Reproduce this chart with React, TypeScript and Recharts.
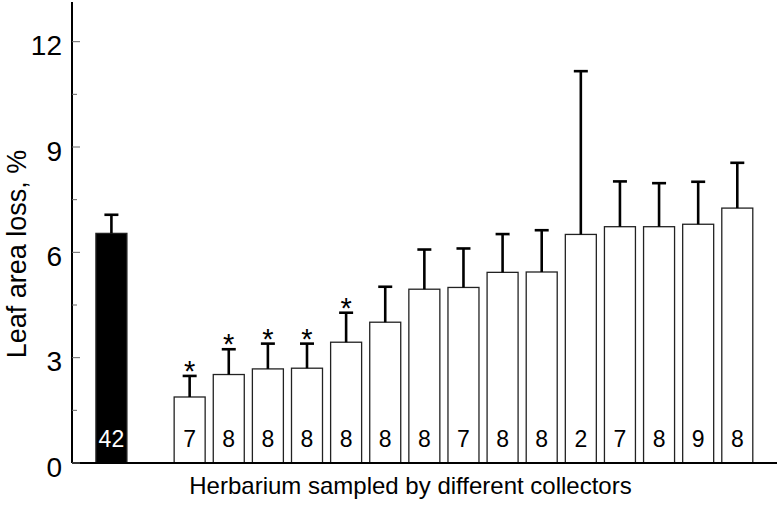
import { BarChart, Bar, XAxis, YAxis } from 'recharts'

// one pooled bar, an empty slot, then 15 collectors
const groups = ['Pooled', '', 'C1', 'C2', 'C3', 'C4', 'C5', 'C6', 'C7', 'C8', 'C9', 'C10', 'C11', 'C12', 'C13', 'C14', 'C15']
const means = [6.54, null, 1.88, 2.52, 2.68, 2.70, 3.44, 4.01, 4.95, 5.00, 5.43, 5.44, 6.51, 6.73, 6.73, 6.80, 7.26]
const errs = [0.53, null, 0.60, 0.72, 0.72, 0.70, 0.84, 1.01, 1.13, 1.11, 1.09, 1.19, 4.65, 1.29, 1.24, 1.21, 1.29]
const counts = [42, null, 7, 8, 8, 8, 8, 8, 8, 7, 8, 8, 2, 7, 8, 9, 8]
const signif = [false, false, true, true, true, true, true, false, false, false, false, false, false, false, false, false, false]
const yTicks = [0, 1.5, 3, 4.5, 6, 7.5, 9, 10.5, 12]

const data = groups.map((g, i) => ({
  group: g, mean: means[i], err: errs[i], n: counts[i], sig: signif[i], pooled: i === 0,
}))

const FONT = '"Liberation Sans", Arial, sans-serif'

function BarShape(props: any) {
  const { x, y, width, height, payload } = props
  if (payload.mean == null || !height) return null
  const ppu = height / payload.mean
  const cx = x + width / 2
  const top = y - payload.err * ppu
  const dark = payload.pooled
  return (
    <g>
      <rect x={x} y={y} width={width} height={height} fill={dark ? '#000' : '#fff'} stroke="#222" strokeWidth={1.3} />
      <line x1={cx} x2={cx} y1={y} y2={top} stroke="#000" strokeWidth={2.6} />
      <line x1={cx - 7} x2={cx + 7} y1={top} y2={top} stroke="#000" strokeWidth={2.6} />
      {payload.sig && (
        <text x={cx} y={top + 5} textAnchor="middle" fontSize={29} fontFamily={FONT} fill="#000">*</text>
      )}
      <text x={cx} y={y + height - 16} textAnchor="middle" fontSize={23} fontFamily={FONT} fill={dark ? '#fff' : '#000'}>
        {payload.n}
      </text>
    </g>
  )
}

function YTick(props: any) {
  const { x, y, payload } = props
  const major = payload.value % 3 === 0
  return (
    <g>
      <line x1={x} x2={x + (major ? 8 : 5)} y1={y} y2={y} stroke="#666" strokeWidth={1} />
      {major && (
        <text x={x - 10} y={y + 13.5} textAnchor="end" fontSize={28} fontFamily={FONT} fill="#000">
          {payload.value}
        </text>
      )}
    </g>
  )
}

export default function App() {
  return (
    <div style={{ position: 'absolute', left: 0, top: 0, width: 779, height: 509, background: '#fff' }}>
      <BarChart width={779} height={509} data={data} margin={{ top: 2, right: 2, left: 0, bottom: 0 }} barCategoryGap="10%">
        <XAxis
          dataKey="group"
          tick={false}
          tickLine={false}
          height={46}
          padding={{ left: 20, right: 20 }}
          axisLine={{ stroke: '#000', strokeWidth: 2 }}
          label={{ value: 'Herbarium sampled by different collectors', position: 'insideBottom', offset: 15, dx: -14, fontSize: 24, fill: '#000', fontFamily: FONT }}
        />
        <YAxis
          width={72}
          domain={[0, 13.13]}
          ticks={yTicks}
          interval={0}
          tickSize={0}
          tickMargin={0}
          tickLine={false}
          tick={<YTick />}
          axisLine={{ stroke: '#000', strokeWidth: 2 }}
          label={{
            content: () => (
              <text x={26} y={254} transform="rotate(-90, 26, 254)" textAnchor="middle" fontSize={27} fontFamily={FONT} fill="#000">
                Leaf area loss, %
              </text>
            ),
          }}
        />
        <Bar dataKey="mean" shape={<BarShape />} isAnimationActive={false} />
      </BarChart>
    </div>
  )
}
